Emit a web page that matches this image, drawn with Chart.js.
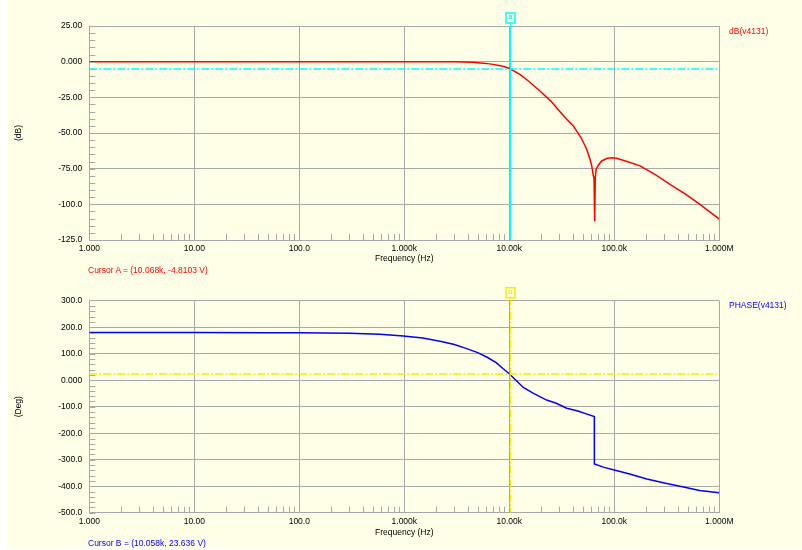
<!DOCTYPE html>
<html>
<head>
<meta charset="utf-8">
<script src="https://cdn.jsdelivr.net/npm/chart.js@4.4.1/dist/chart.umd.min.js"></script>
<style>
  body { margin: 0; background: #fff; width: 802px; height: 550px; overflow: hidden; position: relative; font-family: "Liberation Sans", Arial, sans-serif; }
  #bg { position: absolute; left: 8px; top: 0; right: 0; height: 547px; background: #ffffe8; }
  canvas { position: absolute; left: 0; }
  .lbl { position: absolute; font-size: 8.5px; line-height: 10px; white-space: nowrap; }
</style>
</head>
<body>
<div id="bg"></div>
<canvas id="dbChart" width="802" height="275" style="top:0"></canvas>
<canvas id="phChart" width="802" height="275" style="top:275px"></canvas>
<div class="lbl" id="legA" style="left:729px;top:26px;color:#ff0000">dB(v4131)</div>
<div class="lbl" id="legB" style="left:729px;top:300px;color:#0000ff">PHASE(v4131)</div>
<div class="lbl" id="curA" style="left:88px;top:265px;color:#ff0000"></div>
<div class="lbl" id="curB" style="left:88px;top:538px;color:#0000ff"></div>
<script>
// frequency axis (Hz)
var decades = [1, 10, 100, 1000, 10000, 100000, 1000000];
var xTickLabels = ['1.000', '10.00', '100.0', '1.000k', '10.00k', '100.0k', '1.000M'];

// dB(v4131)
var dbFreq = [1, 10, 100, 1000, 3000, 4500, 5000, 6000, 7000, 8000, 9000, 10068, 12600, 15000, 19600,
  25000, 30000, 35000, 40700, 48000, 54600, 58700, 61000, 63100, 64100, 65000, 65900, 67200, 70400,
  75800, 85800, 95000, 105000, 130000, 176000, 250000, 339000, 480000, 654000, 1000000];
var dbVal = [0, 0, 0, 0, -0.1, -0.4, -0.7, -1.2, -1.9, -2.7, -3.6, -4.81, -8.9, -13.2, -20.6,
  -27.8, -34.6, -40.2, -45, -53, -61.4, -68.4, -73, -80, -81.5, -112, -81, -75.4, -72.6,
  -69.6, -67.7, -67.3, -67.7, -69.8, -73, -79.5, -86, -93, -100, -110.4];
var dbTicks = [-125, -100, -75, -50, -25, 0, 25];
var dbTickLabels = ['-125.0', '-100.0', '-75.00', '-50.00', '-25.00', '0.000', '25.00'];

// PHASE(v4131)
var phFreq = [1, 10, 50, 100, 300, 588, 980, 1500, 2190, 3000, 3930, 5000, 6100, 7500, 8700, 10058,
  11500, 13600, 17000, 22700, 28000, 35200, 45000, 55000, 64500, 64600, 80000, 97800, 140000,
  204000, 300000, 423000, 650000, 1000000];
var phVal = [180, 180, 179.5, 179, 177, 173, 167, 159, 147, 135, 119, 104, 87.5, 66, 44, 23.6,
  1, -27.5, -50, -75, -87, -106, -116, -128, -137, -316, -329, -338, -354,
  -373, -388, -400, -416, -425];
var phTicks = [-500, -400, -300, -200, -100, 0, 100, 200, 300];
var phTickLabels = ['-500.0', '-400.0', '-300.0', '-200.0', '-100.0', '0.000', '100.0', '200.0', '300.0'];

// cursors
var cursorA = { freq: 10068, value: -4.8103 };
var cursorB = { freq: 10058, value: 23.636 };

var GRID = '#a8a8a8';
Chart.defaults.font.family = '"Liberation Sans", Arial, sans-serif';
Chart.defaults.font.size = 8.5;
Chart.defaults.color = '#000';

document.getElementById('curA').textContent =
  'Cursor A = (' + (cursorA.freq / 1000).toFixed(3) + 'k, ' + cursorA.value.toFixed(4) + ' V)';
document.getElementById('curB').textContent =
  'Cursor B = (' + (cursorB.freq / 1000).toFixed(3) + 'k, ' + cursorB.value.toFixed(3) + ' V)';

var scopeDecor = {
  id: 'scopeDecor',
  afterDraw: function(chart, args, o) {
    var ctx = chart.ctx, a = chart.chartArea, x = chart.scales.x, y = chart.scales.y;
    ctx.save();
    // minor ticks
    ctx.strokeStyle = GRID;
    ctx.lineWidth = 1;
    ctx.beginPath();
    for (var d = 1; d < 1e6; d *= 10) {
      for (var m = 2; m <= 9; m++) {
        var px = Math.round(x.getPixelForValue(d * m)) + 0.5;
        ctx.moveTo(px, a.bottom);
        ctx.lineTo(px, a.bottom - 6);
      }
    }
    for (var v = y.min; v < y.max; v += o.minorStep) {
      var py = Math.round(y.getPixelForValue(v)) + 0.5;
      ctx.moveTo(a.left, py);
      ctx.lineTo(a.left + 6, py);
    }
    ctx.stroke();

    // cursor
    var cx = Math.round(x.getPixelForValue(o.cursor.freq)) + 0.5;
    var cy = Math.round(y.getPixelForValue(o.cursor.value));
    ctx.strokeStyle = o.color;
    ctx.lineWidth = 1.5;
    ctx.setLineDash([8, 2, 2, 2]);
    ctx.beginPath();
    ctx.moveTo(a.left, cy);
    ctx.lineTo(a.right, cy);
    ctx.stroke();
    ctx.lineWidth = 1;
    ctx.setLineDash(o.vDash);
    ctx.beginPath();
    ctx.moveTo(cx, a.top - 3);
    ctx.lineTo(cx, a.bottom);
    ctx.stroke();
    ctx.setLineDash([]);
    ctx.lineWidth = 1.5;
    ctx.strokeRect(cx - 4.5, a.top - 13, 9, 10);
    ctx.fillStyle = o.color;
    ctx.font = 'bold 7px "Liberation Sans", Arial, sans-serif';
    ctx.textAlign = 'center';
    ctx.textBaseline = 'middle';
    ctx.fillText(o.letter, cx, a.top - 8.5);
    ctx.restore();
  }
};

function makeChart(id, freq, vals, color, ticks, labels, min, max, yTitle, pad, axisH, titlePad, decor) {
  return new Chart(document.getElementById(id), {
    type: 'line',
    data: {
      datasets: [{
        data: freq.map(function(f, i) { return { x: f, y: vals[i] }; }),
        borderColor: color,
        borderWidth: 1.5,
        pointRadius: 0,
        tension: 0,
        fill: false
      }]
    },
    options: {
      responsive: false,
      animation: false,
      layout: { padding: pad },
      plugins: { legend: { display: false }, tooltip: { enabled: false }, scopeDecor: decor },
      scales: {
        x: {
          type: 'logarithmic',
          min: 1,
          max: 1000000,
          afterBuildTicks: function(s) { s.ticks = decades.map(function(v) { return { value: v, major: true }; }); },
          afterFit: function(s) { s.height = axisH; },
          ticks: {
            autoSkip: false,
            maxRotation: 0,
            padding: 4,
            callback: function(v, i) { return xTickLabels[i]; }
          },
          grid: { color: GRID, drawTicks: false },
          border: { color: GRID },
          title: { display: true, text: 'Frequency (Hz)', padding: { top: 0, bottom: titlePad } }
        },
        y: {
          min: min,
          max: max,
          afterBuildTicks: function(s) { s.ticks = ticks.map(function(v) { return { value: v }; }); },
          afterFit: function(s) { s.width = 89.3; },
          ticks: {
            padding: 7,
            callback: function(v, i) { return labels[i]; }
          },
          grid: { color: GRID, drawTicks: false },
          border: { color: GRID },
          title: { display: true, text: yTitle, padding: { top: 14, bottom: 0 } }
        }
      }
    },
    plugins: [scopeDecor]
  });
}

makeChart('dbChart', dbFreq, dbVal, '#ff0000', dbTicks, dbTickLabels, -125, 25, '(dB)',
  { top: 26, right: 82.7, left: 0, bottom: 0 }, 35, 11.2,
  { cursor: cursorA, color: '#00ffff', letter: 'a', minorStep: 5, vDash: [] });

makeChart('phChart', phFreq, phVal, '#0000ff', phTicks, phTickLabels, -500, 300, '(Deg)',
  { top: 25.7, right: 82.7, left: 0, bottom: 0 }, 37.3, 12.6,
  { cursor: cursorB, color: '#f0f000', letter: 'b', minorStep: 20, vDash: [8, 2, 2, 2] });
</script>
</body>
</html>
